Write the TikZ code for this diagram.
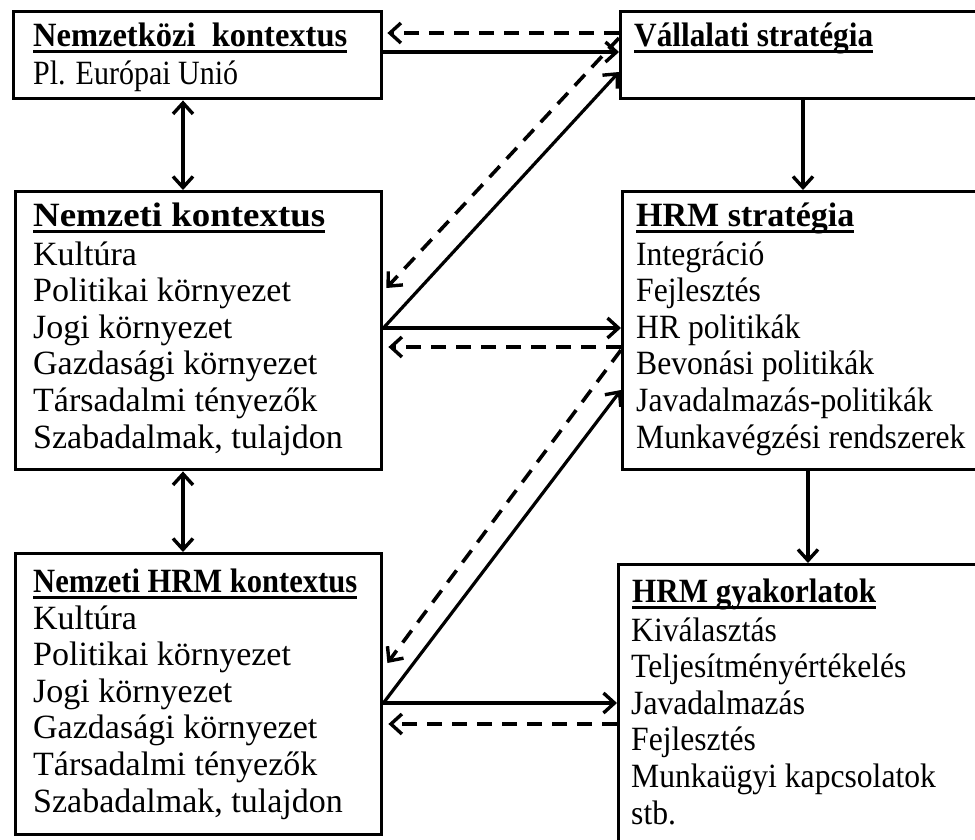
\documentclass[tikz,border=0pt]{standalone}
\usepackage{graphicx}
\usepackage{fontspec}
\setmainfont{Liberation Serif}
\usetikzlibrary{arrows.meta}
\newcommand\hdu[1]{\setbox0\hbox{\bfseries #1}\rlap{\vrule width\wd0 height -3.5pt depth 6.8pt}\box0}
\newcommand\fw[2]{\resizebox{#1pt}{\height}{#2}}
\newcommand\cnd[1]{\scalebox{0.93}[1]{#1}}
\begin{document}
\begin{tikzpicture}[x=1pt,y=-1pt,
  box/.style={draw,line width=3.4pt,rectangle,anchor=north west,inner sep=0pt},
  txt/.style={anchor=base west,inner sep=0pt,font=\fontsize{34}{36}\selectfont},
  con/.style={line width=3.2pt,-{Straight Barb[length=11pt,width=20pt,line width=3.4pt]}},
  bicon/.style={line width=3.2pt,{Straight Barb[length=11pt,width=20pt,line width=3.4pt]}-{Straight Barb[length=11pt,width=20pt,line width=3.4pt]}},
  dcon/.style={con,line width=3.6pt,dash pattern=on 15pt off 10pt}]
\useasboundingbox (0,0) rectangle (975,839);
\clip (0,0) rectangle (975,839);
% boxes
\node[box,minimum width=368pt,minimum height=87pt] (b1) at (12,10) {};
\node[box,minimum width=420pt,minimum height=87pt] (vs) at (619,10) {};
\node[box,minimum width=366pt,minimum height=278pt] (nk) at (14,190) {};
\node[box,minimum width=420pt,minimum height=278pt] (hs) at (621,190) {};
\node[box,minimum width=366pt,minimum height=281pt] (nh) at (14,552) {};
\node[box,minimum width=420pt,minimum height=320pt] (hg) at (617,563) {};
% texts
\node[txt] (t1h) at (33,46) {\fw{314}{\hdu{Nemzetközi\ \ kontextus}}};
\node[txt] (t1a) at (33,84) {\fw{205}{Pl. Európai Unió}};
\node[txt] (t2h) at (634,46) {\fw{239}{\hdu{Vállalati stratégia}}};
\node[txt] (t3h) at (33,226) {\fw{292}{\hdu{Nemzeti kontextus}}};
\foreach \s [count=\i from 0] in {Kultúra,Politikai környezet,Jogi környezet,Gazdasági környezet,Társadalmi tényezők,{Szabadalmak, tulajdon}}
  \node[txt] (t3-\i) at (33,265+36.6*\i) {\s};
\node[txt] (t4h) at (636,226) {\hdu{HRM stratégia}};
\foreach \s [count=\i from 0] in {Integráció,Fejlesztés,HR politikák,Bevonási politikák,Javadalmazás-politikák,Munkavégzési rendszerek}
  \node[txt] (t4-\i) at (636,265+36.6*\i) {\cnd{\s}};
\node[txt] (t5h) at (33,592) {\fw{324}{\hdu{Nemzeti HRM kontextus}}};
\foreach \s [count=\i from 0] in {Kultúra,Politikai környezet,Jogi környezet,Gazdasági környezet,Társadalmi tényezők,{Szabadalmak, tulajdon}}
  \node[txt] (t5-\i) at (33,629+36.6*\i) {\s};
\node[txt] (t6h) at (632,602) {\fw{244}{\hdu{HRM gyakorlatok}}};
\foreach \s [count=\i from 0] in {Kiválasztás,Teljesítményértékelés,Javadalmazás,Fejlesztés,Munkaügyi kapcsolatok,stb.}
  \node[txt] (t6-\i) at (631,641+36.6*\i) {\cnd{\s}};
% connectors top row
\draw[con] ([yshift=-42pt]b1.north east) -- ([yshift=-42pt]vs.north west);
\draw[dcon] ([yshift=-23pt]vs.north west) -- ([yshift=-23pt,xshift=4pt]b1.north east);
% diagonals to Vallalati
\draw[con] ([yshift=-138pt]nk.north east) -- ([yshift=-62pt]vs.north west);
\draw[dcon] ([yshift=-28pt]vs.north west) -- ([yshift=-98pt,xshift=3pt]nk.north east);
% middle row
\draw[con] ([yshift=-138pt]nk.north east) -- ([yshift=-138pt]hs.north west);
\draw[dcon] ([yshift=-157pt]hs.north west) -- ([yshift=-157pt,xshift=5pt]nk.north east);
% diagonals to HRM strategia
\draw[con] ([yshift=-151pt]nh.north east) -- ([yshift=-200pt]hs.north west);
\draw[dcon] ([yshift=-160pt]hs.north west) -- ([yshift=-111pt,xshift=4pt]nh.north east);
% bottom row
\draw[con] ([yshift=-151pt]nh.north east) -- ([yshift=-140pt]hg.north west);
\draw[dcon] ([yshift=-161pt]hg.north west) -- ([yshift=-172pt,xshift=5pt]nh.north east);
% verticals
\draw[bicon] ([xshift=171pt]b1.south west) -- ([xshift=169pt]nk.north west);
\draw[bicon] ([xshift=169pt]nk.south west) -- ([xshift=169pt]nh.north west);
\draw[con] ([xshift=184pt]vs.south west) -- ([xshift=182pt]hs.north west);
\draw[con] ([xshift=187pt]hs.south west) -- ([xshift=191pt]hg.north west);
\end{tikzpicture}
\end{document}
